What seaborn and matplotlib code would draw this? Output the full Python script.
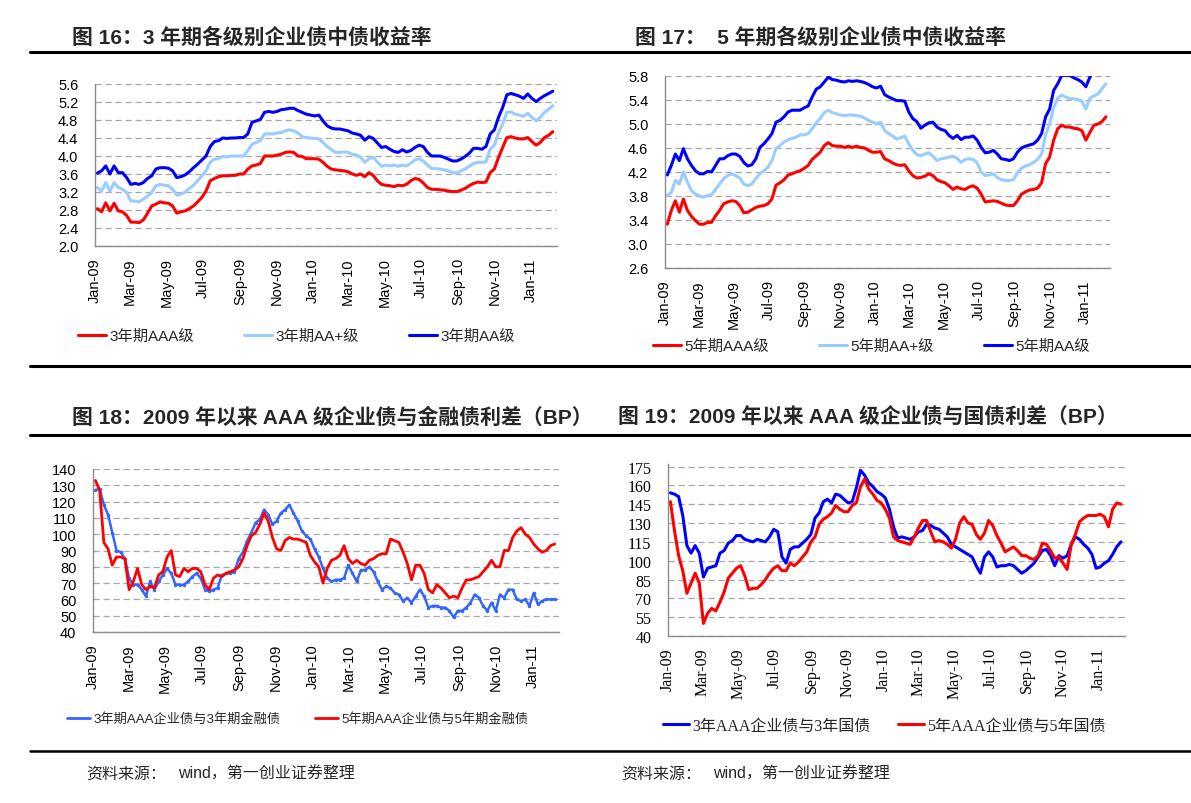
import matplotlib
matplotlib.use('Agg')
import matplotlib.pyplot as plt
import matplotlib.dates as mdates
from matplotlib.lines import Line2D
from matplotlib.ticker import FixedLocator, FormatStrFormatter
import pandas as pd
import seaborn as sns

# weekly observations, Jan 2009 - Feb 2011
dates = pd.date_range('2009-01-05', periods=110, freq='W-MON')

# Fig 16: 3-year corporate bond yields (%)
y3_aaa = [2.83, 2.76, 2.96, 2.78, 2.95, 2.78, 2.76, 2.68, 2.53, 2.53,
          2.52, 2.58, 2.73, 2.89, 2.93, 2.98, 2.96, 2.95, 2.89, 2.73,
          2.76, 2.78, 2.83, 2.89, 2.98, 3.08, 3.22, 3.45, 3.50, 3.54,
          3.56, 3.56, 3.57, 3.57, 3.60, 3.60, 3.71, 3.78, 3.80, 3.83,
          4.00, 4.00, 4.00, 4.02, 4.04, 4.08, 4.09, 4.08, 4.00, 3.99,
          3.94, 3.94, 3.94, 3.93, 3.86, 3.77, 3.71, 3.69, 3.68, 3.67,
          3.65, 3.60, 3.57, 3.60, 3.54, 3.63, 3.57, 3.45, 3.37, 3.35,
          3.34, 3.32, 3.35, 3.34, 3.37, 3.45, 3.50, 3.48, 3.40, 3.30,
          3.26, 3.26, 3.25, 3.24, 3.22, 3.21, 3.21, 3.24, 3.28, 3.34,
          3.39, 3.42, 3.41, 3.42, 3.63, 3.71, 3.97, 4.19, 4.41, 4.43,
          4.40, 4.38, 4.38, 4.41, 4.32, 4.24, 4.30, 4.41, 4.46, 4.54]
y3_aap = [3.30, 3.22, 3.41, 3.22, 3.41, 3.30, 3.26, 3.19, 3.00, 3.00,
          2.98, 3.04, 3.11, 3.19, 3.34, 3.37, 3.35, 3.34, 3.26, 3.13,
          3.15, 3.20, 3.28, 3.35, 3.45, 3.56, 3.67, 3.86, 3.93, 3.94,
          3.99, 3.98, 4.00, 4.00, 4.00, 4.00, 4.12, 4.26, 4.30, 4.34,
          4.49, 4.49, 4.49, 4.51, 4.52, 4.56, 4.58, 4.56, 4.51, 4.43,
          4.41, 4.40, 4.39, 4.38, 4.30, 4.21, 4.14, 4.08, 4.08, 4.09,
          4.08, 4.04, 4.02, 3.97, 3.86, 3.94, 3.97, 3.87, 3.77, 3.80,
          3.78, 3.80, 3.77, 3.80, 3.78, 3.84, 3.91, 3.94, 3.89, 3.80,
          3.72, 3.72, 3.71, 3.69, 3.67, 3.63, 3.62, 3.67, 3.71, 3.77,
          3.83, 3.86, 3.86, 3.87, 4.15, 4.24, 4.52, 4.71, 4.97, 4.98,
          4.93, 4.91, 4.88, 4.95, 4.86, 4.78, 4.86, 4.97, 5.04, 5.12]
y3_aa = [3.62, 3.67, 3.78, 3.60, 3.78, 3.63, 3.63, 3.52, 3.37, 3.39,
         3.37, 3.41, 3.50, 3.56, 3.71, 3.74, 3.74, 3.73, 3.67, 3.52,
         3.54, 3.58, 3.65, 3.74, 3.82, 3.91, 4.00, 4.21, 4.32, 4.34,
         4.40, 4.39, 4.40, 4.40, 4.41, 4.41, 4.49, 4.75, 4.78, 4.81,
         4.97, 4.99, 4.97, 4.99, 5.03, 5.04, 5.06, 5.06, 5.01, 4.97,
         4.93, 4.91, 4.89, 4.91, 4.78, 4.67, 4.62, 4.60, 4.60, 4.58,
         4.56, 4.51, 4.49, 4.46, 4.35, 4.43, 4.39, 4.29, 4.19, 4.21,
         4.15, 4.10, 4.08, 4.14, 4.09, 4.12, 4.19, 4.24, 4.21, 4.08,
         4.00, 4.00, 4.00, 3.97, 3.93, 3.89, 3.89, 3.93, 3.99, 4.06,
         4.17, 4.17, 4.15, 4.21, 4.49, 4.58, 4.86, 5.08, 5.36, 5.39,
         5.36, 5.33, 5.28, 5.38, 5.28, 5.21, 5.28, 5.34, 5.39, 5.44]

# Fig 17: 5-year corporate bond yields (%)
y5_aaa = [3.33, 3.56, 3.72, 3.53, 3.75, 3.56, 3.46, 3.39, 3.33, 3.33,
          3.36, 3.36, 3.47, 3.56, 3.67, 3.70, 3.72, 3.71, 3.64, 3.52,
          3.53, 3.57, 3.61, 3.63, 3.64, 3.67, 3.75, 3.98, 4.02, 4.07,
          4.15, 4.17, 4.20, 4.22, 4.26, 4.31, 4.41, 4.47, 4.53, 4.64,
          4.69, 4.64, 4.63, 4.63, 4.61, 4.63, 4.61, 4.63, 4.61, 4.60,
          4.56, 4.53, 4.53, 4.54, 4.42, 4.39, 4.35, 4.32, 4.31, 4.32,
          4.22, 4.14, 4.10, 4.11, 4.13, 4.17, 4.14, 4.07, 4.04, 4.02,
          3.97, 3.91, 3.95, 3.92, 3.91, 3.95, 3.97, 3.93, 3.83, 3.70,
          3.71, 3.72, 3.71, 3.68, 3.65, 3.64, 3.64, 3.72, 3.83, 3.87,
          3.90, 3.91, 3.93, 4.02, 4.34, 4.45, 4.73, 4.92, 4.98, 4.95,
          4.95, 4.93, 4.92, 4.89, 4.73, 4.86, 4.98, 5.00, 5.04, 5.12]
y5_aap = [3.81, 3.86, 4.06, 4.00, 4.20, 4.03, 3.89, 3.83, 3.80, 3.78,
          3.81, 3.82, 3.91, 4.00, 4.09, 4.14, 4.17, 4.14, 4.10, 4.00,
          3.97, 4.00, 4.09, 4.17, 4.22, 4.28, 4.39, 4.59, 4.64, 4.70,
          4.74, 4.76, 4.78, 4.82, 4.82, 4.84, 4.92, 5.02, 5.09, 5.19,
          5.23, 5.19, 5.17, 5.15, 5.14, 5.15, 5.15, 5.14, 5.13, 5.10,
          5.06, 5.03, 5.00, 5.03, 4.89, 4.84, 4.80, 4.75, 4.77, 4.80,
          4.67, 4.56, 4.49, 4.47, 4.50, 4.52, 4.46, 4.39, 4.42, 4.43,
          4.45, 4.46, 4.43, 4.36, 4.41, 4.42, 4.41, 4.35, 4.20, 4.14,
          4.15, 4.17, 4.11, 4.07, 4.06, 4.06, 4.07, 4.19, 4.26, 4.30,
          4.32, 4.36, 4.41, 4.50, 4.82, 5.00, 5.27, 5.43, 5.48, 5.45,
          5.42, 5.42, 5.41, 5.38, 5.25, 5.43, 5.47, 5.50, 5.59, 5.67]
y5_aa = [4.15, 4.31, 4.50, 4.39, 4.59, 4.42, 4.31, 4.22, 4.17, 4.17,
         4.21, 4.20, 4.31, 4.42, 4.42, 4.47, 4.50, 4.50, 4.46, 4.36,
         4.30, 4.32, 4.42, 4.61, 4.67, 4.75, 4.84, 5.03, 5.06, 5.12,
         5.20, 5.23, 5.23, 5.23, 5.27, 5.30, 5.45, 5.58, 5.62, 5.70,
         5.78, 5.74, 5.73, 5.71, 5.70, 5.72, 5.71, 5.72, 5.71, 5.69,
         5.66, 5.62, 5.60, 5.63, 5.49, 5.45, 5.42, 5.39, 5.39, 5.38,
         5.20, 5.09, 5.04, 4.93, 4.98, 5.02, 5.03, 4.95, 4.91, 4.89,
         4.81, 4.76, 4.81, 4.74, 4.78, 4.78, 4.80, 4.73, 4.61, 4.52,
         4.53, 4.56, 4.50, 4.42, 4.41, 4.39, 4.42, 4.53, 4.60, 4.63,
         4.65, 4.67, 4.73, 4.84, 5.12, 5.25, 5.56, 5.67, 5.81, 5.81,
         5.81, 5.77, 5.74, 5.70, 5.62, 5.78, 5.89, 5.95, 5.98, 6.01]

# Fig 18: AAA corporate vs financial bond spread (BP)
sp_fin3 = [127, 128, 118, 112, 101, 90, 89, 85, 73, 69,
           69, 66, 62, 71, 66, 71, 75, 79, 76, 69,
           69, 69, 71, 74, 76, 73, 66, 65, 66, 67,
           75, 76, 76, 77, 85, 89, 96, 101, 107, 109,
           115, 112, 106, 108, 113, 115, 118, 113, 108, 102,
           99, 97, 91, 86, 79, 73, 71, 72, 72, 73,
           81, 76, 71, 78, 78, 80, 77, 71, 66, 68,
           67, 64, 63, 59, 61, 58, 62, 66, 62, 55,
           56, 56, 55, 55, 53, 49, 53, 53, 55, 58,
           63, 61, 56, 53, 58, 53, 63, 61, 66, 66,
           60, 59, 60, 56, 64, 57, 59, 60, 60, 60]
sp_fin5 = [133, 127, 95, 91, 81, 86, 86, 85, 66, 71,
           79, 69, 66, 68, 67, 75, 77, 86, 90, 75,
           74, 79, 77, 79, 79, 77, 69, 66, 73, 75,
           74, 76, 77, 78, 80, 85, 93, 99, 101, 106,
           113, 108, 98, 91, 90, 96, 98, 97, 97, 96,
           95, 87, 83, 80, 70, 79, 84, 85, 87, 93,
           85, 82, 84, 82, 81, 84, 85, 87, 88, 88,
           97, 96, 95, 89, 82, 72, 81, 81, 76, 66,
           64, 69, 67, 64, 61, 62, 61, 67, 72, 72,
           73, 74, 77, 80, 84, 80, 80, 90, 90, 98,
           102, 104, 100, 98, 94, 91, 89, 90, 93, 94]

# Fig 19: AAA corporate vs treasury spread (BP)
sp_gov3 = [154, 153, 151, 136, 112, 106, 112, 106, 87, 94,
           95, 96, 106, 108, 114, 116, 120, 120, 117, 116,
           115, 117, 116, 115, 119, 125, 123, 103, 98, 109,
           111, 111, 114, 117, 121, 134, 138, 147, 149, 146,
           153, 152, 149, 146, 147, 158, 172, 168, 162, 159,
           155, 153, 150, 141, 127, 118, 119, 118, 117, 119,
           123, 124, 129, 128, 126, 125, 122, 119, 113, 111,
           109, 107, 105, 103, 96, 90, 103, 107, 103, 95,
           96, 96, 97, 96, 93, 90, 92, 95, 98, 103,
           108, 109, 104, 96, 104, 102, 104, 113, 119, 117,
           113, 110, 105, 94, 95, 98, 100, 105, 111, 115]
sp_gov5 = [147, 124, 104, 92, 74, 82, 90, 82, 50, 58,
           62, 60, 67, 75, 86, 90, 94, 96, 88, 77,
           78, 78, 81, 85, 90, 94, 96, 92, 92, 98,
           96, 99, 103, 107, 115, 119, 129, 133, 135, 138,
           144, 141, 139, 139, 144, 146, 159, 165, 157, 153,
           148, 146, 141, 134, 119, 116, 115, 114, 113, 119,
           126, 132, 132, 123, 115, 116, 115, 113, 110, 117,
           130, 135, 130, 129, 121, 117, 122, 132, 128, 120,
           114, 107, 109, 111, 108, 104, 104, 102, 101, 104,
           114, 113, 108, 102, 103, 98, 93, 113, 121, 131,
           134, 136, 136, 136, 137, 135, 127, 141, 146, 145]

# y tick values of each panel
ticks16 = [2.0, 2.4, 2.8, 3.2, 3.6, 4.0, 4.4, 4.8, 5.2, 5.6]
ticks17 = [2.6, 3.0, 3.4, 3.8, 4.2, 4.6, 5.0, 5.4, 5.8]
ticks18 = [40, 50, 60, 70, 80, 90, 100, 110, 120, 130, 140]
ticks19 = [40, 55, 70, 85, 100, 115, 130, 145, 160, 175]

RED = '#FF0000'
LIGHT = '#99CCFF'
BLUE = '#0000FF'
BLUE2 = '#3366FF'

W, H = 1191, 804
sns.set_theme(style='white')
plt.rcParams['font.family'] = ['Liberation Sans', 'Noto Sans CJK SC']
SANS = ['Liberation Sans', 'Noto Sans CJK SC']
SERIF = ['Liberation Serif', 'Noto Sans CJK SC']

fig = plt.figure(figsize=(W / 100, H / 100), dpi=100)


def box(l, t, r, b):
    return [l / W, 1 - b / H, (r - l) / W, (b - t) / H]


def fx(x):
    return x / W


def fy(y):
    return 1 - y / H


def style_axes(ax, ticks, top, fmt, family, size):
    ax.set_xlim(pd.Timestamp('2009-01-01'), pd.Timestamp('2011-02-14'))
    ax.set_ylim(ticks[0], top)
    ax.yaxis.set_major_locator(FixedLocator(ticks))
    ax.yaxis.set_major_formatter(FormatStrFormatter(fmt))
    ax.xaxis.set_major_locator(mdates.MonthLocator(bymonth=[1, 3, 5, 7, 9, 11]))
    ax.xaxis.set_major_formatter(mdates.DateFormatter('%b-%y'))
    ax.yaxis.grid(True, linestyle=(0, (5, 3)), color='#A6A6A6', linewidth=0.9)
    ax.xaxis.grid(False)
    for s in ['top', 'right']:
        ax.spines[s].set_visible(False)
    for s in ['left', 'bottom']:
        ax.spines[s].set_color('#8C8C8C')
        ax.spines[s].set_linewidth(1.0)
    ax.tick_params(axis='both', direction='in', length=4, color='#8C8C8C',
                   width=0.8, labelcolor='black')
    ax.tick_params(axis='y', pad=12)
    ax.tick_params(axis='x', pad=8)
    ax.set_xlabel('')
    ax.set_ylabel('')
    for lab in ax.get_xticklabels():
        lab.set_rotation(90)
        lab.set_ha('center')
        lab.set_family(family)
        lab.set_fontsize(size)
    for lab in ax.get_yticklabels():
        lab.set_family(family)
        lab.set_fontsize(size)


def add_legend(ax, colors, labels, x, y, size, family, hlen, cspace, lw=2.2):
    handles = [Line2D([], [], color=c, lw=lw) for c in colors]
    ax.legend(handles, labels, ncol=len(labels), loc='center left',
              bbox_to_anchor=(fx(x), fy(y)), bbox_transform=fig.transFigure,
              frameon=False, borderpad=0, borderaxespad=0, handlelength=hlen,
              handletextpad=0.25, columnspacing=cspace,
              prop={'family': family, 'size': size})


# ---- Fig 16
ax1 = fig.add_axes(box(95, 85, 557, 247))
for vals, c in [(y3_aaa, RED), (y3_aap, LIGHT), (y3_aa, BLUE)]:
    sns.lineplot(x=dates, y=vals, ax=ax1, color=c, linewidth=2.2)
style_axes(ax1, ticks16, 5.6, '%.1f', ['Liberation Sans'], 10.5)
add_legend(ax1, [RED, LIGHT, BLUE], ['3年期AAA级', '3年期AA+级', '3年期AA级'],
           78, 337, 11, SANS, 1.8, 3.3)

# ---- Fig 17
ax2 = fig.add_axes(box(665, 77, 1110, 269))
for vals, c in [(y5_aaa, RED), (y5_aap, LIGHT), (y5_aa, BLUE)]:
    sns.lineplot(x=dates, y=vals, ax=ax2, color=c, linewidth=2.2)
style_axes(ax2, ticks17, 5.8, '%.1f', ['Liberation Sans'], 10.5)
add_legend(ax2, [RED, LIGHT, BLUE], ['5年期AAA级', '5年期AA+级', '5年期AA级'],
           653, 347, 11, SANS, 1.8, 3.3)

# ---- Fig 18
ax3 = fig.add_axes(box(93, 470, 559, 633))
sns.lineplot(x=dates, y=sp_fin3, ax=ax3, color=BLUE2, linewidth=1.8,
             marker='o', markersize=2.5, markeredgewidth=0)
sns.lineplot(x=dates, y=sp_fin5, ax=ax3, color=RED, linewidth=2.0)
style_axes(ax3, ticks18, 140, '%d', ['Liberation Sans'], 10.5)
add_legend(ax3, [BLUE2, RED], ['3年期AAA企业债与3年期金融债', '5年期AAA企业债与5年期金融债'],
           67, 720, 9.5, SANS, 1.75, 2.6, lw=2.0)

# ---- Fig 19
ax4 = fig.add_axes(box(668, 465, 1125, 637))
sns.lineplot(x=dates, y=sp_gov3, ax=ax4, color=BLUE, linewidth=2.2)
sns.lineplot(x=dates, y=sp_gov5, ax=ax4, color=RED, linewidth=2.2)
style_axes(ax4, ticks19, 177, '%d', ['Liberation Serif'], 11.5)
add_legend(ax4, [BLUE, RED], ['3年AAA企业债与3年国债', '5年AAA企业债与5年国债'],
           663, 727, 11.5, SERIF, 1.6, 1.7)

# ---- titles, rules and source notes
title_font = {'family': SANS, 'weight': 'bold', 'size': 15}
fig.text(fx(72), fy(38), '图 16：3 年期各级别企业债中债收益率', va='center', **title_font)
fig.text(fx(635), fy(38), '图 17：  5 年期各级别企业债中债收益率', va='center', **title_font)
fig.text(fx(72), fy(418), '图 18：2009 年以来 AAA 级企业债与金融债利差（BP）', va='center', **title_font)
fig.text(fx(618), fy(418), '图 19：2009 年以来 AAA 级企业债与国债利差（BP）', va='center', **title_font)

for y in [53, 367, 436]:
    fig.add_artist(Line2D([fx(30), 1.0], [fy(y), fy(y)], color='black', lw=2.2,
                          transform=fig.transFigure))
fig.add_artist(Line2D([fx(30), 1.0], [fy(752), fy(752)], color='black', lw=1.8,
                      transform=fig.transFigure))

src_font = {'family': SANS, 'size': 11.5}
for x0 in [86, 621]:
    fig.text(fx(x0), fy(774), '资料来源：', va='center', **src_font)
    fig.text(fx(x0 + 92), fy(774), 'wind，第一创业证券整理', va='center', **src_font)

fig.savefig('out.png', dpi=100)
